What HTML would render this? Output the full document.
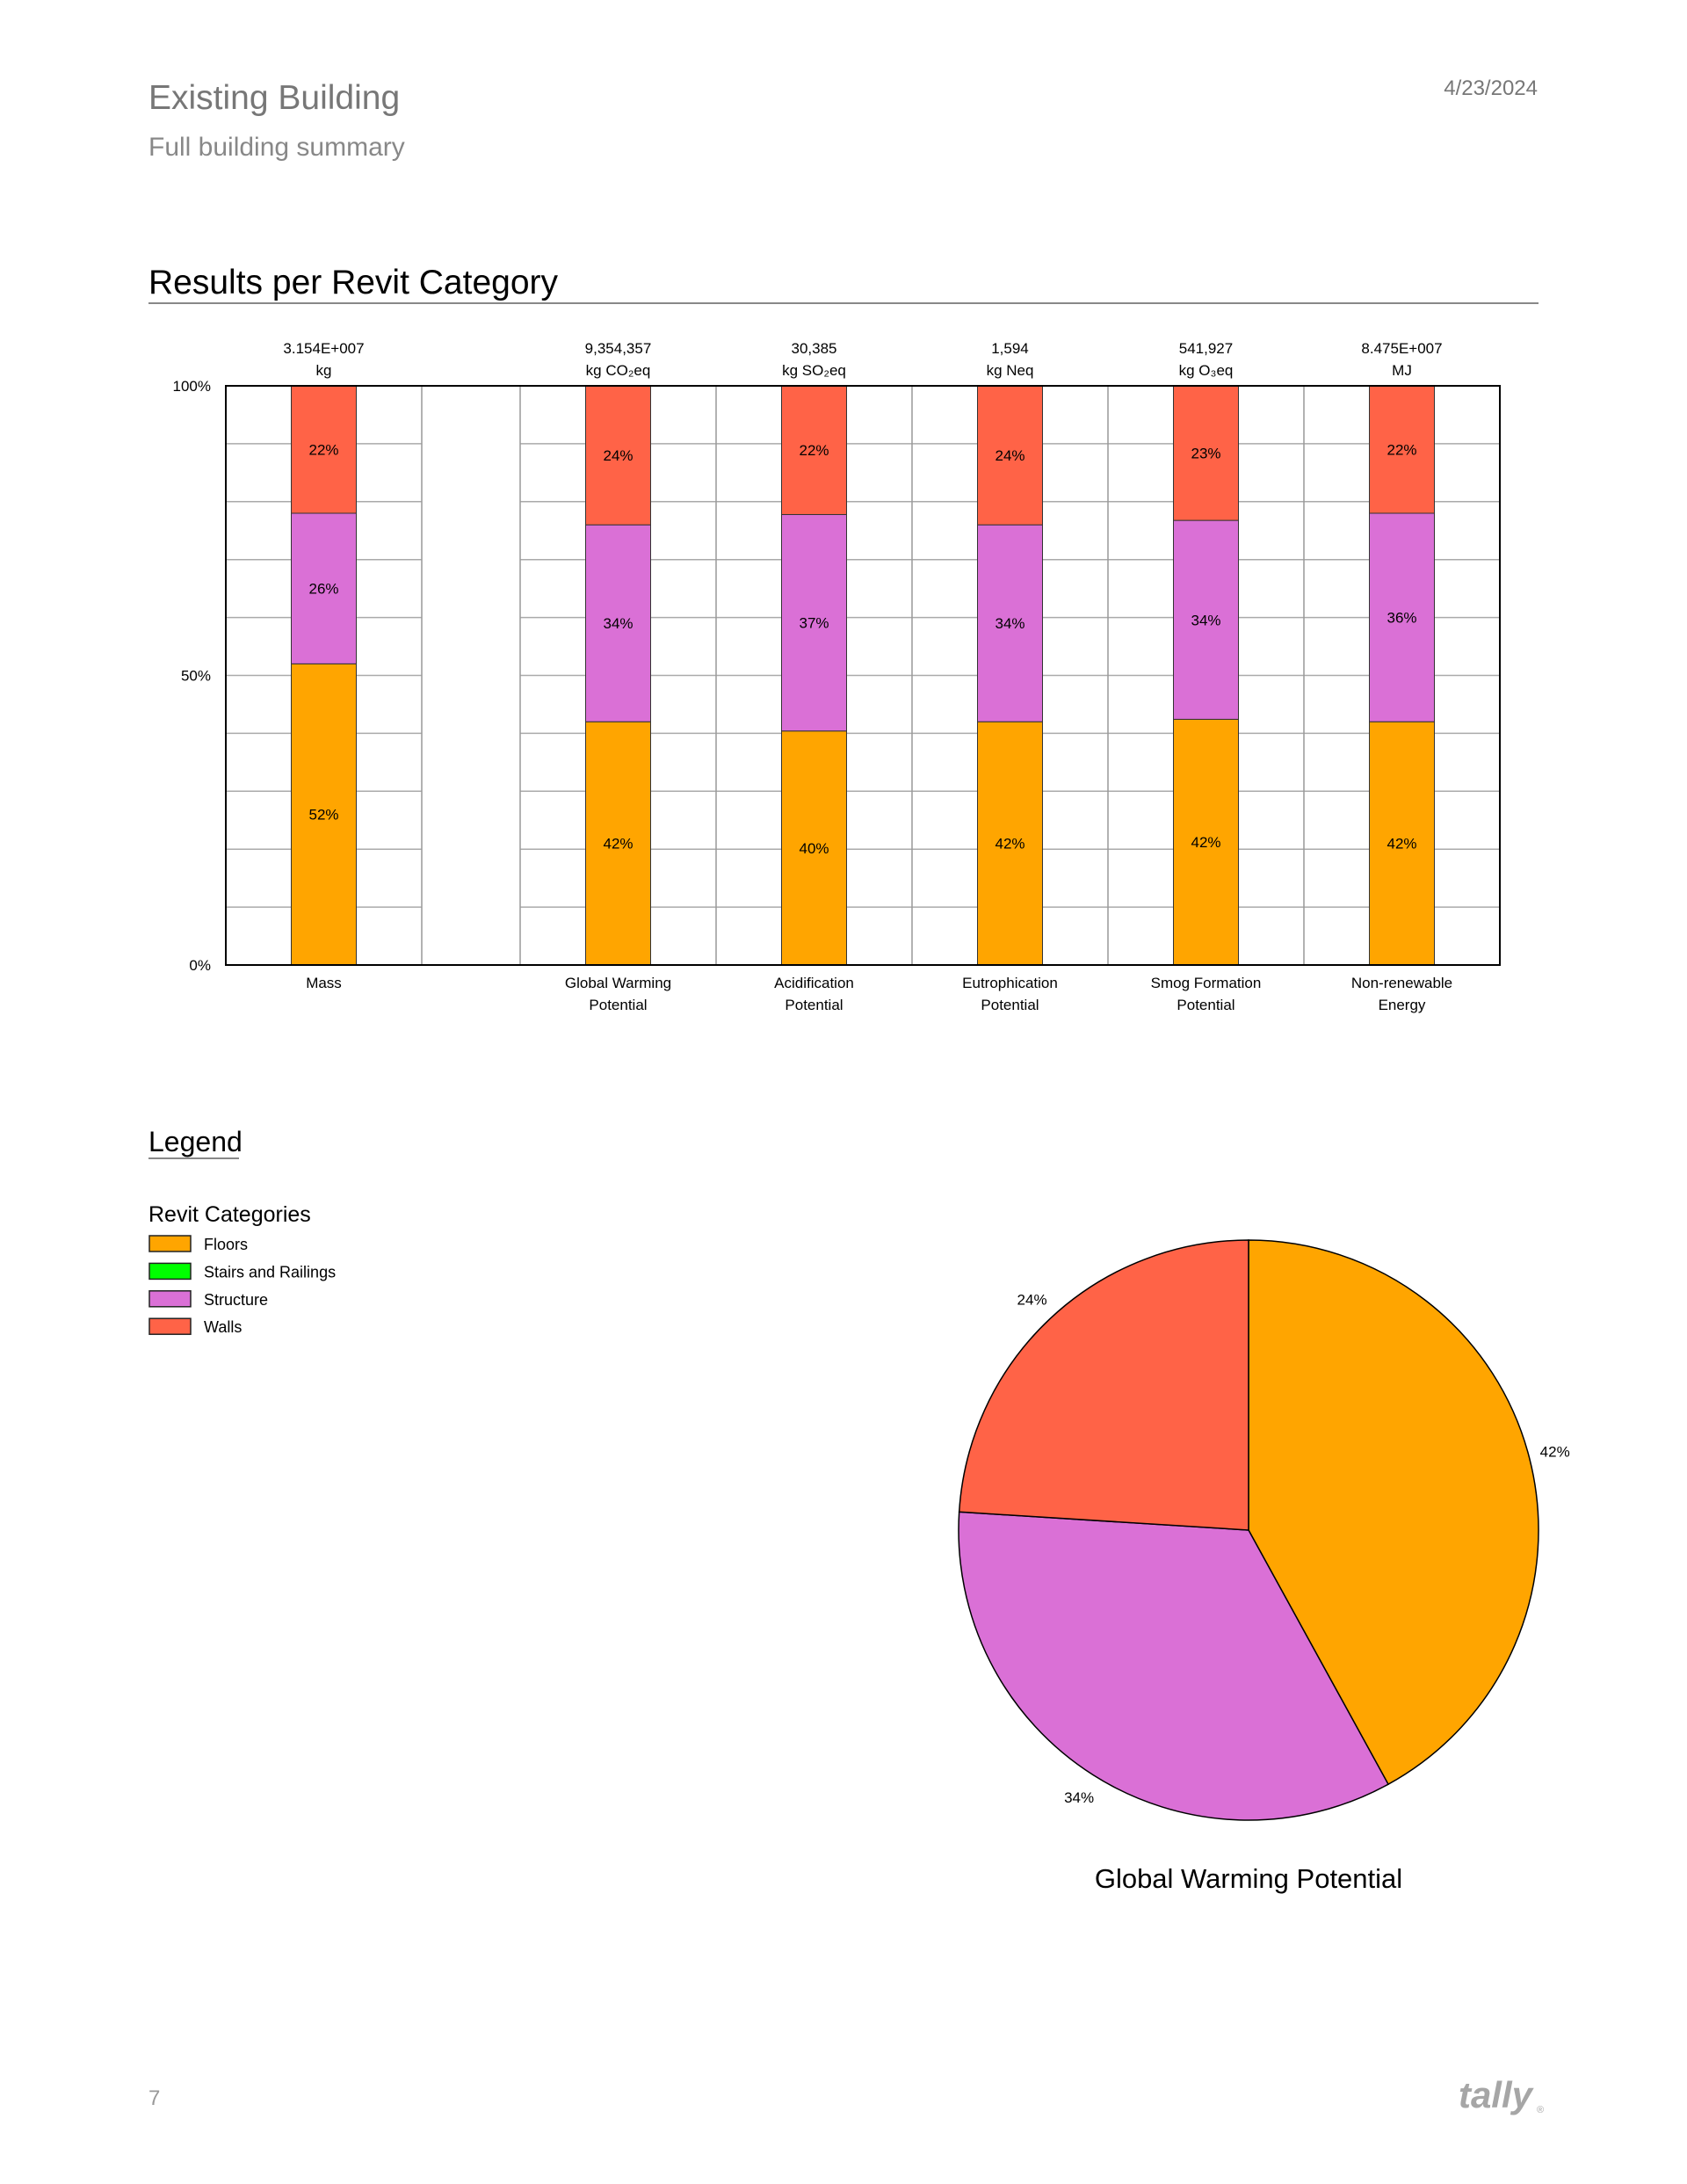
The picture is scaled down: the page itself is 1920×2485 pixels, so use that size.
<!DOCTYPE html>
<html><head><meta charset="utf-8"><style>
html,body{margin:0;padding:0;background:#fff;}
body{width:1920px;height:2485px;position:relative;overflow:hidden;font-family:"Liberation Sans","DejaVu Sans",sans-serif;}
svg{position:absolute;left:0;top:0;}
</style></head><body>
<svg id="page" width="1920" height="2485" viewBox="0 0 1920 2485" xmlns="http://www.w3.org/2000/svg" font-family="Liberation Sans, DejaVu Sans, sans-serif">
  <text x="169" y="124" font-size="39" fill="#777">Existing Building</text>
  <text x="169" y="177" font-size="30" fill="#888">Full building summary</text>
  <text x="1750" y="108" font-size="24" fill="#777" text-anchor="end">4/23/2024</text>
  <text x="169" y="334" font-size="39" fill="#000">Results per Revit Category</text>
  <line x1="169" y1="345" x2="1751" y2="345" stroke="#888" stroke-width="2"/>
  <g id="bars"></g>
  <text x="169" y="1310" font-size="32" fill="#000">Legend</text>
  <line x1="169" y1="1318" x2="272" y2="1318" stroke="#888" stroke-width="2"/>
  <text x="169" y="1390" font-size="25" fill="#000">Revit Categories</text>
  <g id="legend"></g>
  <g id="pie"></g>
  <text x="1421" y="2148" font-size="31" fill="#000" text-anchor="middle">Global Warming Potential</text>
  <text x="169" y="2395" font-size="24" fill="#999">7</text>
  <text x="1744" y="2398" font-size="42" font-weight="bold" font-style="italic" fill="#a6a6a6" text-anchor="end">tally</text>
  <text x="1749" y="2404" font-size="11" fill="#a6a6a6">®</text>
</svg>
<script>
const categories = ["Mass", "", "Global Warming|Potential", "Acidification|Potential", "Eutrophication|Potential", "Smog Formation|Potential", "Non-renewable|Energy"];
const totals = ["3.154E+007|kg", "", "9,354,357|kg CO₂eq", "30,385|kg SO₂eq", "1,594|kg Neq", "541,927|kg O₃eq", "8.475E+007|MJ"];
const floors = [52, null, 42, 40, 42, 42, 42];
const stairs = [0, null, 0, 0, 0, 0, 0];
const structure = [26, null, 34, 37, 34, 34, 36];
const walls = [22, null, 24, 22, 24, 23, 22];
const yTicks = [0, 50, 100];
const seriesNames = ["Floors", "Stairs and Railings", "Structure", "Walls"];
const seriesColors = ["#FFA500", "#00FF00", "#DA70D6", "#FF6347"];
const pieValues = [42, 34, 24];
const pieColors = ["#FFA500", "#DA70D6", "#FF6347"];

const NS = "http://www.w3.org/2000/svg";
function mk(tag, attrs, parent, txt){const e=document.createElementNS(NS,tag);for(const k in attrs)e.setAttribute(k,attrs[k]);if(txt!==undefined)e.textContent=txt;parent.appendChild(e);return e;}

const g = document.getElementById('bars');
const L=257, R=1707, T=439, B=1098;
const colW=223, gapW=112;
const colX=[]; let cx=L;
categories.forEach((c,i)=>{const w=(floors[i]===null)?gapW:colW;colX.push([cx,w]);cx+=w;});
const y = v => B - (v/100)*(B-T);
const barW=74;
colX.forEach((p,i)=>{
  if(floors[i]!==null){
    for(let k=1;k<10;k++){
      const gl=mk('line',{x1:p[0],x2:p[0]+p[1],y1:y(k*10),y2:y(k*10),stroke:'#aaa','stroke-width':1.5},g);
      
      
    }
  }
  if(i>0){
    const vl=mk('line',{x1:p[0],x2:p[0],y1:T,y2:B,stroke:'#999','stroke-width':1.5},g);
    
    
  }
});
yTicks.forEach(t=>{
  const tl=mk('text',{x:240,y:y(t)+6,'font-size':17,'text-anchor':'end',fill:'#000'},g,t+'%');
  
  
});
const series=[floors,stairs,structure,walls];
colX.forEach((p,i)=>{
  if(floors[i]===null) return;
  const center=p[0]+p[1]/2, x0=center-barW/2;
  const sum=series.reduce((a,s)=>a+s[i],0);
  let acc=0;
  series.forEach((s,si)=>{
    const v=s[i]; if(!v) return;
    const y0=y(acc/sum*100), y1=y((acc+v)/sum*100); acc+=v;
    const r=mk('rect',{x:x0,y:y1,width:barW,height:y0-y1,fill:seriesColors[si],stroke:'#333','stroke-width':1},g);
    
    
    const lt=mk('text',{x:center,y:(y0+y1)/2+6,'font-size':17,'text-anchor':'middle',fill:'#000'},g,v+'%');
    
    
  });
  const tp=totals[i].split('|');
  tp.forEach((s,k)=>{
    const t=mk('text',{x:center,y:402+k*25,'font-size':17,'text-anchor':'middle',fill:'#000'},g,s);
    
    
  });
  categories[i].split('|').forEach((s,k)=>{
    const t=mk('text',{x:center,y:1124+k*25,'font-size':17,'text-anchor':'middle',fill:'#000'},g,s);
    
    
  });
});
const frame=mk('rect',{x:L,y:T,width:R-L,height:B-T,fill:'none',stroke:'#000','stroke-width':2},g);



const lg=document.getElementById('legend');
seriesNames.forEach((n,i)=>{
  const yy=1406+i*31.4;
  const sw=mk('rect',{x:170,y:yy,width:47,height:18,fill:seriesColors[i],stroke:'#222','stroke-width':1.5},lg);
  
  
  const t=mk('text',{x:232,y:yy+16,'font-size':18,fill:'#000'},lg,n);
  
  
});

const pg=document.getElementById('pie');
const PCX=1421, PCY=1741, PR=330;
const ptot=pieValues.reduce((a,b)=>a+b,0);
let ang=0;
pieValues.forEach((v,i)=>{
  const a0=ang, a1=ang+v/ptot*2*Math.PI; ang=a1;
  const p0=[PCX+PR*Math.sin(a0),PCY-PR*Math.cos(a0)], p1=[PCX+PR*Math.sin(a1),PCY-PR*Math.cos(a1)];
  const large=(a1-a0)>Math.PI?1:0;
  const path=mk('path',{d:`M${PCX},${PCY} L${p0[0]},${p0[1]} A${PR},${PR} 0 ${large} 1 ${p1[0]},${p1[1]} Z`,fill:pieColors[i],stroke:'#000','stroke-width':1.5},pg);
  
  
  const am=(a0+a1)/2, lr=PR+30;
  const lx=PCX+lr*Math.sin(am), ly=PCY-lr*Math.cos(am);
  const t=mk('text',{x:lx,y:ly+6,'font-size':17,'text-anchor':'middle',fill:'#000'},pg,v+'%');
  
  
});
</script>
</body></html>
